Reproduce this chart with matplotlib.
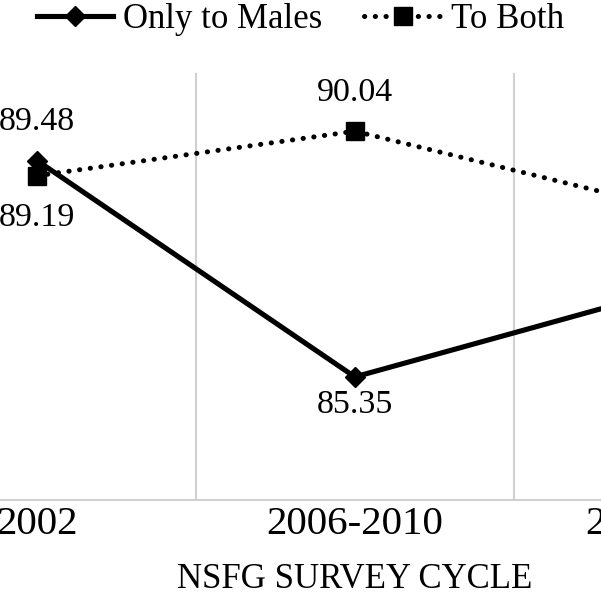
import matplotlib.pyplot as plt
import numpy as np

# Data
cycles = ["2002", "2006-2010", "2011-2015"]
only_males = [89.48, 85.35, 87.03]
to_both = [89.19, 90.04, 88.55]

# label offsets (points) for each point: + above, - below
males_off = [28, -20, 28]
both_off = [-30, 28, -30]

plt.rcParams["font.family"] = ["Liberation Serif", "DejaVu Serif"]

x = np.arange(len(cycles))

fig = plt.figure(figsize=(6.01, 6.01), dpi=100)
# axes wider than the figure: the picture is a crop of a larger chart
ax = fig.add_axes([-0.203, 0.168, 1.587, 0.7105])

ax.plot(x, only_males, color="black", linestyle="-", linewidth=3.7,
        marker="D", markersize=10, label="Only to Males", zorder=3)
ax.plot(x, to_both, color="black", linestyle=(0, (0.05, 2.1)), linewidth=3.6,
        dash_capstyle="round", marker="s", markersize=12.5,
        label="To Both", zorder=3)

# only the first two cycles are inside the cropped view
for xi, v, off in zip(x[:2], only_males[:2], males_off[:2]):
    ax.annotate(f"{v:.2f}", xy=(xi, v), xytext=(0, off), textcoords="offset points",
                ha="center", va="center", fontsize=24.5)
for xi, v, off in zip(x[:2], to_both[:2], both_off[:2]):
    ax.annotate(f"{v:.2f}", xy=(xi, v), xytext=(0, off), textcoords="offset points",
                ha="center", va="center", fontsize=24.5)

ax.set_xlim(-0.5, len(cycles) - 0.5)
ax.set_ylim(83.0, 91.15)
ax.set_xticks(x)
ax.set_xticklabels(cycles, fontsize=29.5)
ax.set_xticks(x[:-1] + 0.5, minor=True)
ax.set_yticks([])
ax.tick_params(axis="x", which="both", length=0, pad=4)
ax.grid(axis="x", which="minor", color="#d0d0d0", linewidth=1.5)
ax.set_xlabel("NSFG SURVEY CYCLE", fontsize=25, labelpad=15)

for s in ["top", "right", "left"]:
    ax.spines[s].set_visible(False)
ax.spines["bottom"].set_color("#d0d0d0")
ax.spines["bottom"].set_linewidth(1.5)

fig.legend(loc="center", bbox_to_anchor=(0.5, 0.967), ncol=2, frameon=False,
           fontsize=25, handlelength=2.2, handletextpad=0.3, columnspacing=1.2)

plt.savefig("out.png", dpi=100)
plt.close()
